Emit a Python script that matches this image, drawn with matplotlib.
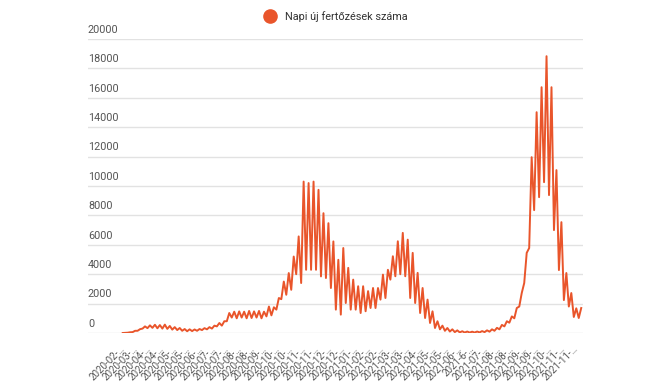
import matplotlib.pyplot as plt
from matplotlib.lines import Line2D

plt.rcParams['font.family'] = ['Roboto', 'DejaVu Sans']

# weekly trough / peak of daily new cases (week 0 = late Feb 2020)
week_low = [0, 20, 60, 150, 300, 330, 350, 320, 300, 280,
            230, 200, 150, 120, 130, 150, 200, 250, 300, 450,
            500, 800, 1050, 1000, 1050, 1000, 1020, 1050, 1000, 1130,
            1200, 1590, 2300, 2600, 2940, 4000, 3400, 4300, 4300, 4300,
            3850, 3740, 3060, 1590, 1250, 2040, 1590, 1590, 1360, 1480,
            1700, 1700, 2270, 2380, 3630, 3860, 4000, 3860, 2380, 2040,
            1360, 1020, 680, 340, 250, 150, 100, 60, 40, 30,
            30, 30, 40, 60, 90, 150, 250, 450, 700, 1000,
            1800, 3400, 5780, 8360, 9240, 10260, 9380, 7000, 4280, 2240,
            1800, 1090, 1020]
week_high = [10, 50, 150, 260, 450, 520, 560, 540, 570, 480,
             400, 340, 270, 250, 240, 270, 330, 400, 500, 680,
             800, 1360, 1450, 1470, 1450, 1500, 1470, 1500, 1450, 1800,
             1750, 2380, 3500, 4080, 5200, 6570, 10300, 10200, 10300, 9740,
             8150, 7470, 6230, 4980, 5780, 4430, 3630, 3180, 3180, 2850,
             3060, 3060, 3970, 4300, 5220, 6240, 6810, 6350, 5450, 4090,
             3060, 2270, 1475, 800, 500, 340, 250, 180, 120, 100,
             90, 100, 130, 180, 250, 350, 550, 800, 1130, 1700,
             2720, 5450, 11960, 15020, 16720, 18830, 16720, 11080, 7540, 4080,
             2720, 1680, 1700]

tick_labels = ["2020-02", "2020-03", "2020-04", "2020-04", "2020-05", "2020-05",
               "2020-06", "2020-07", "2020-07", "2020-08", "2020-08", "2020-09",
               "2020-10", "2020-10", "2020-11", "2020-11", "2020-12", "2020-12",
               "2021-01", "2021-02", "2021-02", "2021-03", "2021-03", "2021-04",
               "2021-05", "2021-05", "2021-06", "2021-6", "2021-07", "2021-08",
               "2021-08", "2021-09", "2021-09", "2021-10", "2021-11", "2021-11"]
y_ticks = [0, 2000, 4000, 6000, 8000, 10000, 12000, 14000, 16000, 18000, 20000]
series_name = "Napi új fertőzések száma"

ORANGE = '#e9552b'

days, vals = [], []
for w, (lo, hi) in enumerate(zip(week_low, week_high)):
    days += [7 * w + 1, 7 * w + 4.5]
    vals += [lo, hi]

fig = plt.figure(figsize=(6.69, 3.85), dpi=100)
ax = fig.add_axes([88 / 669, 52 / 385, 495 / 669, 294 / 385])
ax.plot(days, vals, color=ORANGE, lw=1.4, solid_joinstyle='round')

ax.set_xlim(-48, 651)
ax.set_ylim(0, 20000)
for s in ax.spines.values():
    s.set_visible(False)

ax.set_yticks(y_ticks)
ax.yaxis.grid(True, color='#e2e2e2', lw=1)
ax.set_axisbelow(True)
ax.tick_params(axis='y', length=0, labelleft=False)
for v in y_ticks:
    ax.annotate(str(v), xy=(0, v), xycoords=('axes fraction', 'data'),
                xytext=(0, 3), textcoords='offset points',
                ha='left', va='bottom', fontsize=7.8, color='#555555')

step = 18.3
ax.set_xticks([1.4 + i * step for i in range(len(tick_labels))])
ax.set_xticklabels([t + '-…' for t in tick_labels], rotation=45, ha='right',
                   va='center', rotation_mode='anchor', fontsize=7, color='#555555')
ax.tick_params(axis='x', length=0, pad=10)

handle = Line2D([], [], marker='o', ls='', color=ORANGE, markersize=9.5)
ax.legend([handle], [series_name], loc='center', bbox_to_anchor=(0.498, 0.958),
          bbox_transform=fig.transFigure, frameon=False, fontsize=7.8,
          handletextpad=0.4, labelcolor='#333333')

fig.savefig('out.png', dpi=100)
